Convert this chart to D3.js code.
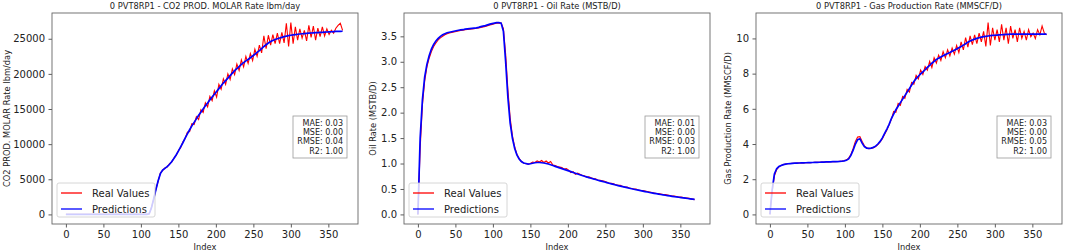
<!DOCTYPE html>
<html>
<head>
<meta charset="utf-8">
<script src="https://cdn.jsdelivr.net/npm/d3@7"></script>
<style>
    body { margin: 0; background: #fff; }
    svg { display: block; font-family: "DejaVu Sans", sans-serif; }
</style>
</head>
<body>
<svg id="chart" width="1065" height="252"></svg>
<script>
// index values sampled every 3 steps (0..369)
const indexValues = d3.range(0, 372, 3);
const xTicks = [0, 50, 100, 150, 200, 250, 300, 350];

const titles = [
    "0 PVT8RP1 - CO2 PROD. MOLAR Rate lbm/day",
    "0 PVT8RP1 - Oil Rate (MSTB/D)",
    "0 PVT8RP1 - Gas Production Rate (MMSCF/D)"
];
const yLabels = [
    "CO2 PROD. MOLAR Rate lbm/day",
    "Oil Rate (MSTB/D)",
    "Gas Production Rate (MMSCF/D)"
];
const metricNames = ["MAE", "MSE", "RMSE", "R2"];
const co2Metrics = ["0.03", "0.00", "0.04", "1.00"];
const oilMetrics = ["0.01", "0.00", "0.03", "1.00"];
const gasMetrics = ["0.03", "0.00", "0.05", "1.00"];

const co2Ticks = [0, 5000, 10000, 15000, 20000, 25000];
const oilTicks = [0, 0.5, 1.0, 1.5, 2.0, 2.5, 3.0, 3.5];
const gasTicks = [0, 2, 4, 6, 8, 10];

const co2Pred = [
    0,0,0,0,0,0,0,0,0,0, 0,0,0,0,0,0,0,0,0,0, 0,0,0,0,0,0,0,0,0,0, 0,0,0,0,0,0,0,
    100,900,2200,3500,4800,5800,6300,6550,6800,7100,
    7500,7950,8450,9000,9600,10200,10850,11450,12050,12600,
    13100,13600,14100,14550,15000,15450,15850,16300,16700,17100,
    17500,17900,18300,18700,19050,19400,19750,20100,20450,20750,
    21050,21350,21600,21850,22050,22300,22550,22800,23050,23300,
    23600,23900,24150,24400,24600,24750,24900,25000,25100,25200,
    25300,25380,25450,25500,25550,25600,25640,25680,25710,25740,
    25770,25800,25820,25840,25860,25880,25900,25920,25940,25960,
    25980,26000,26020,26040,26050,26060,26070
];
const co2Real = [
    0,0,0,0,0,0,0,0,0,0, 0,0,0,0,0,0,0,0,0,0, 0,0,0,0,0,0,0,0,0,0, 0,0,0,0,0,0,0,
    100,950,2150,3600,4700,5900,6250,6600,6750,7200,
    7450,8000,8400,9100,9500,10300,10800,11700,11800,12900,
    12800,13900,13500,14900,14500,15900,15300,16800,16200,17600,
    16700,18500,17800,19300,18500,20000,19200,20700,19900,21400,
    20500,22000,21000,22500,21500,22900,21900,23500,22500,24100,
    23000,25400,23600,25500,24100,25600,24300,25800,24300,25900,
    24400,27200,23900,27300,24300,26700,24800,26400,25100,26200,
    24700,26900,25200,26800,24800,26500,25300,26700,25400,26400,
    25600,26200,25800,26500,26900,27200,26200
];

const oilPred = [
    0.0,1.5,2.25,2.7,2.95,3.12,3.25,3.34,3.41,3.46,
    3.5,3.53,3.55,3.57,3.58,3.59,3.6,3.61,3.62,3.625,
    3.63,3.64,3.645,3.65,3.655,3.66,3.665,3.675,3.69,3.7,
    3.71,3.725,3.74,3.75,3.76,3.77,3.77,3.76,3.6,3.0,
    2.3,1.8,1.5,1.3,1.17,1.09,1.04,1.01,1.0,0.99,
    0.995,1.005,1.015,1.02,1.02,1.015,1.01,1.0,0.99,0.975,
    0.96,0.945,0.93,0.915,0.9,0.885,0.87,0.855,0.84,0.825,
    0.81,0.795,0.78,0.765,0.75,0.737,0.724,0.711,0.698,0.685,
    0.672,0.66,0.648,0.636,0.624,0.612,0.6,0.589,0.578,0.567,
    0.556,0.545,0.535,0.525,0.515,0.505,0.495,0.485,0.476,0.467,
    0.458,0.449,0.44,0.431,0.423,0.415,0.407,0.399,0.391,0.384,
    0.377,0.37,0.363,0.356,0.349,0.343,0.337,0.331,0.325,0.319,
    0.313,0.307,0.301,0.295
];
const oilReal = [
    0.0,1.3,2.15,2.62,2.9,3.07,3.2,3.3,3.37,3.43,
    3.47,3.5,3.53,3.55,3.565,3.575,3.585,3.595,3.605,3.615,
    3.62,3.63,3.635,3.64,3.645,3.65,3.66,3.665,3.675,3.685,
    3.695,3.71,3.725,3.735,3.75,3.76,3.765,3.76,3.65,3.15,
    2.45,1.9,1.55,1.33,1.18,1.1,1.04,1.01,0.995,0.99,
    1.0,1.03,1.02,1.05,1.03,1.06,1.02,1.05,1.01,1.04,
    0.97,0.96,0.94,0.93,0.92,0.89,0.9,0.87,0.82,0.84,
    0.79,0.81,0.79,0.77,0.76,0.73,0.74,0.72,0.7,0.7,
    0.67,0.67,0.66,0.65,0.63,0.61,0.61,0.6,0.58,0.57,
    0.57,0.55,0.54,0.54,0.52,0.51,0.5,0.5,0.48,0.47,
    0.47,0.46,0.45,0.44,0.43,0.42,0.41,0.41,0.4,0.39,
    0.39,0.38,0.37,0.36,0.36,0.35,0.34,0.34,0.33,0.32,
    0.32,0.31,0.3,0.29
];

const gasPred = [
    0.0,1.4,2.3,2.6,2.72,2.78,2.83,2.86,2.88,2.89,
    2.9,2.91,2.915,2.92,2.925,2.93,2.935,2.94,2.945,2.95,
    2.955,2.96,2.965,2.97,2.975,2.98,2.985,2.99,2.995,3.0,
    3.005,3.01,3.02,3.04,3.08,3.15,3.35,3.65,4.0,4.25,
    4.3,4.05,3.85,3.77,3.75,3.77,3.81,3.88,4.0,4.15,
    4.35,4.6,4.85,5.12,5.45,5.7,5.95,6.15,6.35,6.55,
    6.75,6.95,7.15,7.35,7.55,7.72,7.85,7.98,8.1,8.22,
    8.35,8.47,8.59,8.7,8.8,8.88,8.95,9.02,9.08,9.14,
    9.2,9.27,9.33,9.4,9.47,9.54,9.62,9.7,9.78,9.85,
    9.91,9.96,10.0,10.04,10.07,10.1,10.12,10.14,10.16,10.17,
    10.18,10.19,10.2,10.21,10.22,10.23,10.23,10.24,10.24,10.24,
    10.24,10.24,10.24,10.24,10.24,10.24,10.24,10.24,10.24,10.24,
    10.24,10.24,10.24,10.24
];
const gasReal = [
    0.0,1.3,2.2,2.55,2.7,2.78,2.83,2.86,2.88,2.89,
    2.9,2.91,2.915,2.92,2.925,2.93,2.935,2.94,2.945,2.95,
    2.955,2.96,2.965,2.97,2.975,2.98,2.985,2.99,3.0,3.0,
    3.01,3.02,3.03,3.05,3.1,3.2,3.4,3.75,4.15,4.4,
    4.42,4.15,3.9,3.78,3.74,3.75,3.79,3.86,3.97,4.12,
    4.3,4.55,4.8,5.1,5.4,5.85,5.8,6.3,6.2,6.7,
    6.6,7.1,6.95,7.5,7.4,7.9,7.7,8.2,7.95,8.4,
    8.2,8.7,8.35,8.9,8.6,9.05,8.75,9.25,8.9,9.35,
    9.0,9.45,9.1,9.6,9.2,9.8,9.35,10.05,9.5,10.15,
    9.65,10.2,9.7,10.3,9.8,10.4,9.55,10.9,9.6,10.6,
    9.9,10.5,9.8,10.8,9.9,10.6,9.7,10.7,10.0,10.5,
    9.8,10.6,10.0,10.4,9.9,10.5,10.1,10.3,10.0,10.5,
    10.2,10.7,10.3,10.2
];

const panels = [
    { left: 52,  title: titles[0], yLabel: yLabels[0], labelOffset: 45, real: co2Real, pred: co2Pred, ticks: co2Ticks, fmt: d3.format("d"),   metrics: co2Metrics },
    { left: 404, title: titles[1], yLabel: yLabels[1], labelOffset: 31, real: oilReal, pred: oilPred, ticks: oilTicks, fmt: d3.format(".1f"), metrics: oilMetrics },
    { left: 756, title: titles[2], yLabel: yLabels[2], labelOffset: 28, real: gasReal, pred: gasPred, ticks: gasTicks, fmt: d3.format("d"),   metrics: gasMetrics }
];

const svg = d3.select("#chart");

panels.forEach((p, k) => drawPanel(svg, p, k));

function drawPanel(svg, p, k) {
    const area = { left: p.left, top: 13, width: 306, height: 211 };
    const right = area.left + area.width;
    const bottom = area.top + area.height;

    const scX = d3.scaleLinear()
        .domain([-18.55, 389.55])
        .range([area.left, right]);

    const [lo, hi] = d3.extent(p.real.concat(p.pred));
    const pad = (hi - lo) * 0.05;
    const scY = d3.scaleLinear()
        .domain([lo - pad, hi + pad])
        .range([bottom, area.top]);

    const g = svg.append("g");

    g.append("clipPath")
        .attr("id", "clip" + k)
        .append("rect")
        .attr("x", area.left).attr("y", area.top)
        .attr("width", area.width).attr("height", area.height);

    const axX = g.append("g")
        .attr("transform", `translate(0, ${bottom})`)
        .call(d3.axisBottom(scX).tickValues(xTicks).tickSize(3.5).tickPadding(3.5));
    const axY = g.append("g")
        .attr("transform", `translate(${area.left}, 0)`)
        .call(d3.axisLeft(scY).tickValues(p.ticks).tickFormat(p.fmt).tickSize(3.5).tickPadding(3.5));

    [axX, axY].forEach(ax => {
        ax.select(".domain").remove();
        ax.selectAll("line").attr("stroke", "#333").attr("stroke-width", 0.8);
        ax.selectAll("text")
            .attr("fill", "#222")
            .style("font-size", "10px")
            .style("font-family", "DejaVu Sans, sans-serif");
    });

    const line = d3.line()
        .x((d, i) => scX(indexValues[i]))
        .y(d => scY(d));

    const lines = g.append("g").attr("clip-path", `url(#clip${k})`);
    lines.append("path")
        .datum(p.real)
        .attr("d", line)
        .attr("fill", "none")
        .attr("stroke", "#ff0000")
        .attr("stroke-width", 1.1);
    lines.append("path")
        .datum(p.pred)
        .attr("d", line)
        .attr("fill", "none")
        .attr("stroke", "#0000ff")
        .attr("stroke-width", 1.7);

    // frame
    g.append("rect")
        .attr("x", area.left).attr("y", area.top)
        .attr("width", area.width).attr("height", area.height)
        .attr("fill", "none")
        .attr("stroke", "#666")
        .attr("stroke-width", 0.9);

    // title and axis labels
    g.append("text")
        .attr("x", area.left + area.width / 2)
        .attr("y", 9)
        .attr("text-anchor", "middle")
        .attr("fill", "#222")
        .style("font-size", "8.3px")
        .text(p.title);

    g.append("text")
        .attr("x", area.left + area.width / 2)
        .attr("y", 249.5)
        .attr("text-anchor", "middle")
        .attr("fill", "#222")
        .style("font-size", "8.3px")
        .text("Index");

    g.append("text")
        .attr("transform", `translate(${area.left - p.labelOffset + 3}, ${area.top + area.height / 2}) rotate(-90)`)
        .attr("text-anchor", "middle")
        .attr("fill", "#222")
        .style("font-size", "8.3px")
        .text(p.yLabel);

    // legend
    const lg = g.append("g").attr("transform", `translate(${area.left + 5}, 183)`);
    lg.append("rect")
        .attr("width", 98).attr("height", 34)
        .attr("rx", 2)
        .attr("fill", "#fff").attr("fill-opacity", 0.8)
        .attr("stroke", "#ccc").attr("stroke-width", 0.8);
    const legendItems = [["Real Values", "#ff0000", 10], ["Predictions", "#0000ff", 26]];
    legendItems.forEach(([label, color, yy]) => {
        lg.append("line")
            .attr("x1", 4).attr("x2", 25)
            .attr("y1", yy).attr("y2", yy)
            .attr("stroke", color).attr("stroke-width", 1.3);
        lg.append("text")
            .attr("x", 35).attr("y", yy + 3.6)
            .attr("fill", "#222")
            .style("font-size", "10px")
            .text(label);
    });

    // metrics box
    const mb = g.append("g").attr("transform", `translate(${right - 65}, 116)`);
    mb.append("rect")
        .attr("width", 54).attr("height", 42)
        .attr("fill", "#fff").attr("fill-opacity", 0.8)
        .attr("stroke", "#999").attr("stroke-width", 0.8);
    metricNames.forEach((name, i) => {
        mb.append("text")
            .attr("x", 50)
            .attr("y", 9.7 + i * 9.3)
            .attr("text-anchor", "end")
            .attr("fill", "#222")
            .style("font-size", "8px")
            .text(`${name}: ${p.metrics[i]}`);
    });
}
</script>
</body>
</html>
